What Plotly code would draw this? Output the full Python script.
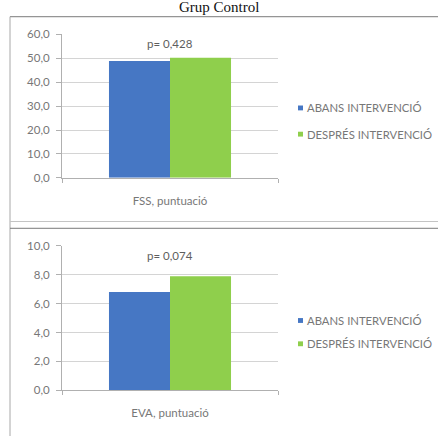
import plotly.graph_objects as go

W, H = 438, 442

# Series and measures
series_names = ["ABANS INTERVENCIÓ", "DESPRÉS INTERVENCIÓ"]
series_colors = ["#4677C4", "#8FCF4C"]
measures = ["FSS, puntuació", "EVA, puntuació"]
fss_values = [48.9, 50.3]
eva_values = [6.8, 7.9]
p_labels = ["p= 0,428", "p= 0,074"]
p_label_y = [56.1, 9.35]
y_ranges = [[0, 60], [0, 10]]
y_dticks = [10, 2]
title_text = "Grup Control"

panel_values = [fss_values, eva_values]

TXT = "#777777"
GRID = "#d4d4d4"
AXIS = "#b0b0b0"
FONT = "Lato, Open Sans, sans-serif"


def px_x(p):
    return p / W


def px_y(p):
    return 1 - p / H


# pixel geometry of the two plot areas: (y of zero line, y of top tick)
plot_x = (62, 278)
plot_y = [(176, 28.3), (395, 246)]

fig = go.Figure()

for i, vals in enumerate(panel_values):
    xa = "x" if i == 0 else "x2"
    ya = "y" if i == 0 else "y2"
    for name, color, v in zip(series_names, series_colors, vals):
        fig.add_trace(go.Bar(
            x=[measures[i]], y=[v], name=name, marker_color=color,
            marker_line_width=0, showlegend=False, xaxis=xa, yaxis=ya,
            hoverinfo="y+name",
        ))

axis_common = dict(
    showline=True, linecolor=AXIS, linewidth=1,
    tickfont=dict(family=FONT, size=11.5, color=TXT),
)

for i in range(2):
    sfx = "" if i == 0 else "2"
    y0, y1 = plot_y[i]
    fig.update_layout(**{
        "xaxis" + sfx: dict(
            domain=[px_x(plot_x[0]), px_x(plot_x[1])],
            anchor="y" + sfx, type="category",
            ticks="outside", ticklen=4, tickcolor=AXIS, tickson="boundaries",
            ticklabelstandoff=12, showgrid=False, fixedrange=True,
            **axis_common,
        ),
        "yaxis" + sfx: dict(
            domain=[px_y(y0), px_y(y1)], anchor="x" + sfx,
            range=y_ranges[i], dtick=y_dticks[i], tickformat=".1f",
            ticks="outside", ticklen=5, tickcolor=AXIS, ticklabelstandoff=4,
            showgrid=True, gridcolor=GRID, gridwidth=1, zeroline=False,
            fixedrange=True, **axis_common,
        ),
    })

annotations = []
shapes = []

# p-value labels above the bars
for i in range(2):
    sfx = "" if i == 0 else "2"
    annotations.append(dict(
        x=measures[i], y=p_label_y[i], xref="x" + sfx, yref="y" + sfx,
        text=p_labels[i], showarrow=False,
        font=dict(family=FONT, size=11.5, color="#5e5e5e"),
    ))

# legends beside each chart
legend_rows = [(104, 131), (323, 347)]
for rows in legend_rows:
    for name, color, ry in zip(series_names, series_colors, rows):
        shapes.append(dict(
            type="rect", xref="paper", yref="paper",
            x0=px_x(298), x1=px_x(303), y0=px_y(ry + 2.5), y1=px_y(ry - 2.5),
            fillcolor=color, line_width=0,
        ))
        annotations.append(dict(
            x=px_x(305), y=px_y(ry), xref="paper", yref="paper",
            xanchor="left", yanchor="middle", text=name, showarrow=False,
            font=dict(family=FONT, size=11.3, color=TXT),
        ))

# chart frames
shapes += [
    dict(type="line", xref="paper", yref="paper",
         x0=px_x(10), x1=1, y0=px_y(10), y1=px_y(10),
         line=dict(color="#7a7a7a", width=1)),
    dict(type="line", xref="paper", yref="paper",
         x0=px_x(10), x1=px_x(10), y0=px_y(10), y1=0,
         line=dict(color="#a8a8a8", width=1)),
    dict(type="line", xref="paper", yref="paper",
         x0=px_x(10), x1=1, y0=px_y(221), y1=px_y(221),
         line=dict(color="#c4c4c4", width=1)),
    dict(type="line", xref="paper", yref="paper",
         x0=px_x(10), x1=1, y0=px_y(228), y1=px_y(228),
         line=dict(color="#7a7a7a", width=1)),
]

# title, sitting on the top frame line
annotations.append(dict(
    x=0.5, y=px_y(10), xref="paper", yref="paper", xanchor="center",
    yanchor="bottom", text=title_text, showarrow=False,
    font=dict(family="Liberation Serif, Times New Roman, serif", size=15, color="#111"),
))

fig.update_layout(
    width=W, height=H, margin=dict(l=0, r=0, t=0, b=0),
    paper_bgcolor="white", plot_bgcolor="white",
    barmode="group", bargap=0.435, bargroupgap=0,
    separators=", ", showlegend=False,
    annotations=annotations, shapes=shapes,
)

fig.write_html("out.html")
